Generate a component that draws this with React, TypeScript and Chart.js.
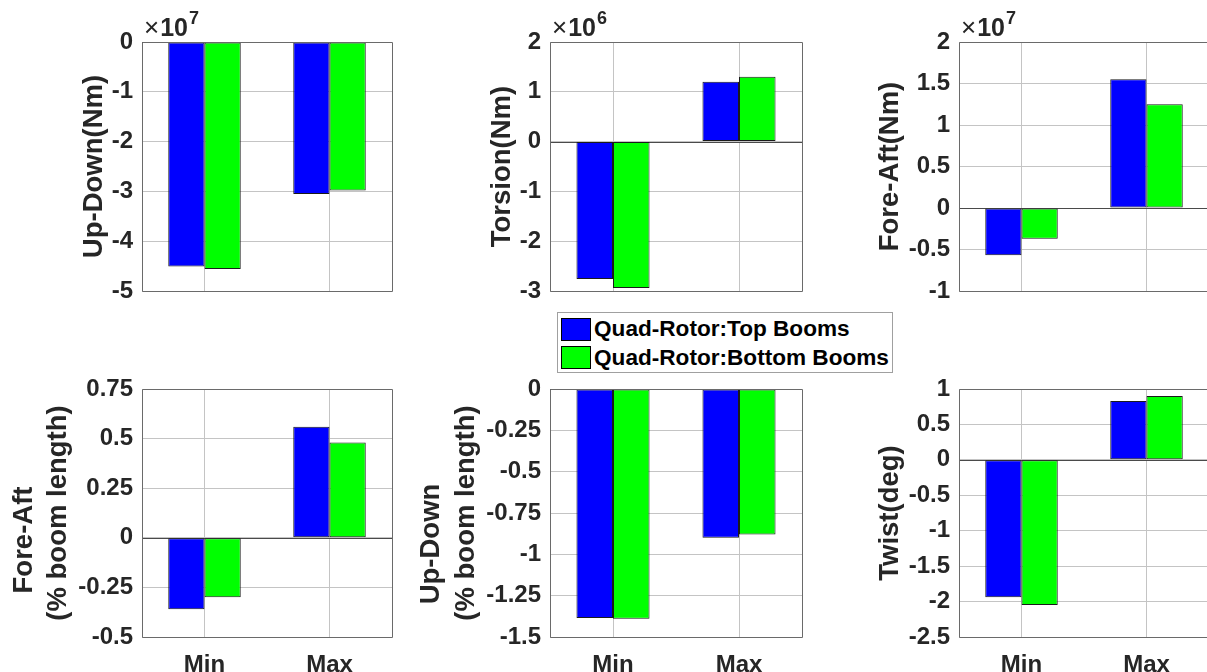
import React, { useEffect, useRef } from 'react';
import { Chart, registerables } from 'chart.js';

Chart.register(...registerables);

// ---- data ----
const categories = ['Min', 'Max'];
const seriesNames = ['Quad-Rotor:Top Booms', 'Quad-Rotor:Bottom Booms'];
const seriesColors = ['#0000ff', '#00ff00'];

// Root bending / torsion moments (Nm)
const upDownMomentTop = [-4.51e7, -3.05e7];
const upDownMomentBottom = [-4.56e7, -2.98e7];
const torsionTop = [-2.76e6, 1.2e6];
const torsionBottom = [-2.94e6, 1.3e6];
const foreAftMomentTop = [-0.57e7, 1.55e7];
const foreAftMomentBottom = [-0.37e7, 1.25e7];

// Tip deflections (% boom length) and twist (deg)
const foreAftDeflTop = [-0.36, 0.56];
const foreAftDeflBottom = [-0.3, 0.48];
const upDownDeflTop = [-1.385, -0.9];
const upDownDeflBottom = [-1.39, -0.88];
const twistTop = [-1.94, 0.83];
const twistBottom = [-2.05, 0.9];

// Tick values, in units of each axis multiplier
const upDownMomentTicks = [-5, -4, -3, -2, -1, 0];
const torsionTicks = [-3, -2, -1, 0, 1, 2];
const foreAftMomentTicks = [-1, -0.5, 0, 0.5, 1, 1.5, 2];
const foreAftDeflTicks = [-0.5, -0.25, 0, 0.25, 0.5, 0.75];
const upDownDeflTicks = [-1.5, -1.25, -1, -0.75, -0.5, -0.25, 0];
const twistTicks = [-2.5, -2, -1.5, -1, -0.5, 0, 0.5, 1];

// ---- styling ----
const FONT_FAMILY = "'Liberation Sans', Arial, Helvetica, sans-serif";
const TEXT_COLOR = '#262626';
const GRID_COLOR = '#c4c4c4';
const FRAME_COLOR = '#6a6a6a';
const BASELINE_COLOR = '#4a4a4a';
const TICK_SIZE = 24;
const TITLE_SIZE = 27.5;

type TitleLine = { text: string; base: number; shift: number };
type PanelCfg = {
  top: number[];
  bottom: number[];
  ticks: number[];
  exponent: number;
  titles: TitleLine[];
  showX: boolean;
  left: number;
  y: number;
  w: number;
  h: number;
};

const AXIS_W = 142; // room left of each plot box for tick labels and titles
const PAD_TOP = 42;
const X_AXIS_H = 40;

const panels: PanelCfg[] = [
  { top: upDownMomentTop, bottom: upDownMomentBottom, ticks: upDownMomentTicks, exponent: 7,
    titles: [{ text: 'Up-Down(Nm)', base: -40, shift: 0 }], showX: false, left: 142, y: 42, w: 250, h: 249 },
  { top: torsionTop, bottom: torsionBottom, ticks: torsionTicks, exponent: 6,
    titles: [{ text: 'Torsion(Nm)', base: -40, shift: 0 }], showX: false, left: 550, y: 42, w: 252, h: 249 },
  { top: foreAftMomentTop, bottom: foreAftMomentBottom, ticks: foreAftMomentTicks, exponent: 7,
    titles: [{ text: 'Fore-Aft(Nm)', base: -61, shift: 0 }], showX: false, left: 959, y: 42, w: 250, h: 249 },
  { top: foreAftDeflTop, bottom: foreAftDeflBottom, ticks: foreAftDeflTicks, exponent: 0,
    titles: [
      { text: 'Fore-Aft', base: -110, shift: 27 },
      { text: '(% boom length)', base: -76, shift: 0 },
    ], showX: true, left: 142, y: 389, w: 250, h: 248 },
  { top: upDownDeflTop, bottom: upDownDeflBottom, ticks: upDownDeflTicks, exponent: 0,
    titles: [
      { text: 'Up-Down', base: -111, shift: 31 },
      { text: '(% boom length)', base: -76, shift: 0 },
    ], showX: true, left: 550, y: 389, w: 252, h: 248 },
  { top: twistTop, bottom: twistBottom, ticks: twistTicks, exponent: 0,
    titles: [{ text: 'Twist(deg)', base: -61, shift: 0 }], showX: true, left: 959, y: 389, w: 250, h: 248 },
];

const fmt = (v: number) => String(Number(v.toFixed(4)));
const px = (v: number) => Math.round(v) + 0.5;

// Box frame, zero baseline, axis multiplier and y-axis titles
const axesDecor = {
  id: 'axesDecor',
  beforeDatasetsDraw(chart: any) {
    const { ctx, chartArea: a, scales } = chart;
    const y0 = px(scales.y.getPixelForValue(0));
    ctx.save();
    ctx.strokeStyle = BASELINE_COLOR;
    ctx.lineWidth = 1;
    ctx.beginPath();
    ctx.moveTo(a.left, y0);
    ctx.lineTo(a.right, y0);
    ctx.stroke();
    ctx.restore();
  },
  afterDraw(chart: any, _args: any, opts: any) {
    const { ctx, chartArea: a } = chart;
    ctx.save();
    ctx.strokeStyle = FRAME_COLOR;
    ctx.lineWidth = 1;
    ctx.beginPath();
    ctx.rect(px(a.left), px(a.top), px(a.right) - px(a.left), px(a.bottom) - px(a.top));
    ctx.stroke();

    ctx.fillStyle = TEXT_COLOR;
    if (opts.exponent) {
      let x = a.left + 2;
      const base = a.top - 6;
      ctx.textBaseline = 'alphabetic';
      ctx.textAlign = 'left';
      ctx.font = `normal 26px ${FONT_FAMILY}`;
      ctx.fillText('\u00d7', x, base);
      x += ctx.measureText('\u00d7').width + 1;
      ctx.font = `bold 25px ${FONT_FAMILY}`;
      ctx.fillText('10', x, base);
      x += ctx.measureText('10').width;
      ctx.font = `bold 18px ${FONT_FAMILY}`;
      ctx.fillText(String(opts.exponent), x + 1, base - 12);
    }

    ctx.font = `bold ${TITLE_SIZE}px ${FONT_FAMILY}`;
    ctx.textAlign = 'center';
    ctx.textBaseline = 'alphabetic';
    const cy = (a.top + a.bottom) / 2;
    for (const line of opts.titles as TitleLine[]) {
      ctx.save();
      ctx.translate(a.left + line.base, cy + line.shift);
      ctx.rotate(-Math.PI / 2);
      ctx.fillText(line.text, 0, 0);
      ctx.restore();
    }
    ctx.restore();
  },
};

function Panel({ cfg }: { cfg: PanelCfg }) {
  const ref = useRef<HTMLCanvasElement>(null);
  const cw = AXIS_W + cfg.w + 4;
  const ch = PAD_TOP + cfg.h + X_AXIS_H;

  useEffect(() => {
    const factor = Math.pow(10, cfg.exponent);
    const tickFont = { family: FONT_FAMILY, size: TICK_SIZE, weight: 'bold' as const };
    const chart = new Chart(ref.current as HTMLCanvasElement, {
      type: 'bar',
      data: {
        labels: categories,
        datasets: [cfg.top, cfg.bottom].map((d, i) => ({
          label: seriesNames[i],
          data: d,
          backgroundColor: seriesColors[i],
          borderColor: '#1a1a1a',
          borderWidth: 1,
          borderSkipped: false,
          categoryPercentage: 0.58,
          barPercentage: 1,
        })),
      },
      options: {
        responsive: false,
        maintainAspectRatio: false,
        animation: false,
        devicePixelRatio: 1,
        events: [],
        layout: { padding: { top: PAD_TOP, right: 4, left: 0, bottom: 0 } },
        plugins: {
          legend: { display: false },
          tooltip: { enabled: false },
          axesDecor: { exponent: cfg.exponent, titles: cfg.titles },
        } as any,
        scales: {
          x: {
            offset: true,
            grid: { offset: false, drawTicks: false, color: GRID_COLOR, lineWidth: 1 },
            border: { display: false },
            ticks: { display: cfg.showX, padding: 14, font: tickFont, color: TEXT_COLOR, maxRotation: 0 },
            afterFit: (s: any) => { s.height = X_AXIS_H; },
          },
          y: {
            min: cfg.ticks[0] * factor,
            max: cfg.ticks[cfg.ticks.length - 1] * factor,
            afterBuildTicks: (s: any) => { s.ticks = cfg.ticks.map((v) => ({ value: v * factor })); },
            grid: { drawTicks: false, color: GRID_COLOR, lineWidth: 1 },
            border: { display: false },
            ticks: {
              padding: 9,
              font: tickFont,
              color: TEXT_COLOR,
              callback: (v: any) => fmt(Number(v) / factor),
            },
            afterFit: (s: any) => { s.width = AXIS_W; },
          },
        },
      },
      plugins: [axesDecor],
    });
    return () => chart.destroy();
  }, [cfg]);

  return (
    <canvas
      ref={ref}
      width={cw}
      height={ch}
      style={{ position: 'absolute', left: cfg.left - AXIS_W, top: cfg.y - PAD_TOP, width: cw, height: ch }}
    />
  );
}

function Legend() {
  return (
    <div
      style={{
        position: 'absolute',
        left: 557,
        top: 312,
        width: 336,
        height: 61,
        boxSizing: 'border-box',
        border: '1px solid #a0a0a0',
        background: '#ffffff',
        zIndex: 5,
        fontFamily: FONT_FAMILY,
        fontWeight: 'bold',
        fontSize: 22.6,
        color: '#000000',
      }}
    >
      {seriesNames.map((name, i) => (
        <div key={name} style={{ position: 'absolute', left: 3, top: 4 + i * 28.5, height: 24, display: 'flex', alignItems: 'center', whiteSpace: 'nowrap' }}>
          <span style={{ display: 'inline-block', width: 30, height: 23, boxSizing: 'border-box', background: seriesColors[i], border: '1px solid #000', marginRight: 3 }} />
          <span style={{ lineHeight: '24px' }}>{name}</span>
        </div>
      ))}
    </div>
  );
}

export default function App() {
  return (
    <div style={{ position: 'fixed', left: 0, top: 0, width: 1207, height: 672, overflow: 'hidden', background: '#ffffff' }}>
      {panels.map((p, i) => (
        <Panel key={i} cfg={p} />
      ))}
      <Legend />
    </div>
  );
}
